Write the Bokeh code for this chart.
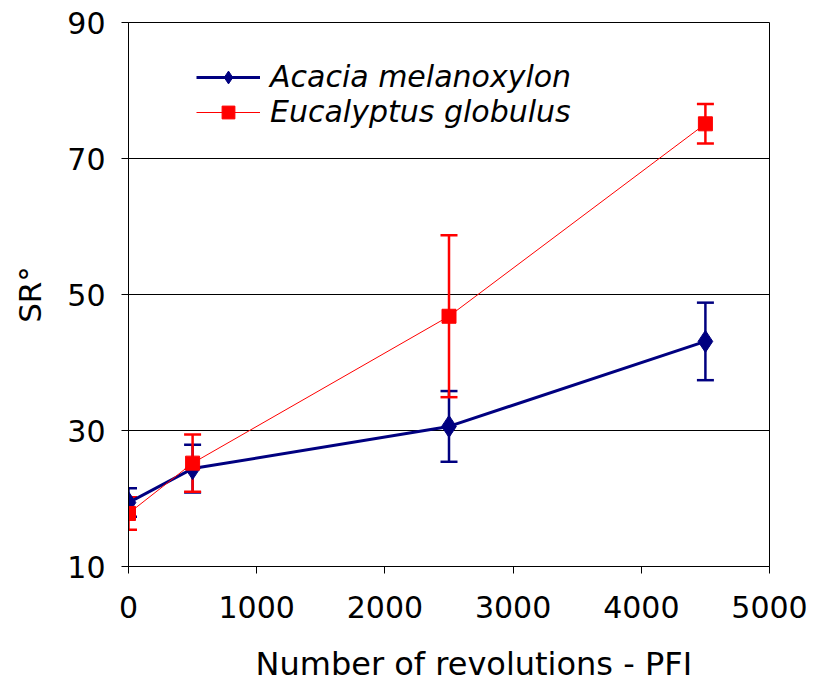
from bokeh.plotting import figure
from bokeh.models import Whisker, ColumnDataSource, Legend, LegendItem, FixedTicker, Title
from bokeh.embed import file_html
from bokeh.resources import INLINE

revolutions = [0, 500, 2500, 4500]
acacia_sr = [19.4, 24.4, 30.6, 43.1]
acacia_err = [2.1, 3.5, 5.2, 5.7]
eucalyptus_sr = [17.8, 25.2, 46.8, 75.1]
eucalyptus_err = [2.4, 4.2, 11.9, 2.9]
x_ticks = [0, 1000, 2000, 3000, 4000, 5000]
y_ticks = [10, 30, 50, 70, 90]

FONT = "DejaVu Sans"
NAVY = "#000080"
RED = "#FF0000"

p = figure(width=812, height=683, x_range=(0, 5000), y_range=(10, 90),
           output_backend="svg", toolbar_location=None,
           min_border_left=128, min_border_right=43, min_border_top=22, min_border_bottom=117)
p.frame_width = 641
p.frame_height = 544

p.background_fill_color = "white"
p.border_fill_color = "white"
p.outline_line_color = "black"
p.outline_line_width = 1

p.xgrid.grid_line_color = None
p.ygrid.grid_line_color = "black"
p.ygrid.grid_line_width = 1
p.ygrid.ticker = FixedTicker(ticks=y_ticks)

for ax in (p.xaxis, p.yaxis):
    ax.axis_line_color = "black"
    ax.major_tick_line_color = "black"
    ax.minor_tick_line_color = None
    ax.major_tick_in = 0
    ax.major_tick_out = 7
    ax.major_label_text_font = FONT
    ax.major_label_text_font_size = "30px"
    ax.major_label_text_color = "black"
    ax.axis_label_text_font = FONT
    ax.axis_label_text_font_size = "31px"
    ax.axis_label_text_font_style = "normal"
    ax.axis_label_text_color = "black"

p.xaxis.ticker = FixedTicker(ticks=x_ticks)
p.yaxis.ticker = FixedTicker(ticks=y_ticks)
p.yaxis.axis_label = "SR\u00b0"
p.xaxis.major_label_standoff = 22
p.yaxis.major_label_standoff = 16
p.yaxis.axis_label_standoff = 16

# x-axis title, slightly right of centre as in the original
x_title = Title(text="Number of revolutions - PFI", align="left", offset=127,
                text_font=FONT, text_font_size="32px", text_color="black",
                text_font_style="normal", standoff=45)
p.add_layout(x_title, "below")

src_a = ColumnDataSource(dict(
    x=revolutions, y=acacia_sr,
    lo=[v - e for v, e in zip(acacia_sr, acacia_err)],
    hi=[v + e for v, e in zip(acacia_sr, acacia_err)]))
src_e = ColumnDataSource(dict(
    x=revolutions, y=eucalyptus_sr,
    lo=[v - e for v, e in zip(eucalyptus_sr, eucalyptus_err)],
    hi=[v + e for v, e in zip(eucalyptus_sr, eucalyptus_err)]))

la = p.line("x", "y", source=src_a, line_color=NAVY, line_width=3)
le = p.line("x", "y", source=src_e, line_color=RED, line_width=1)

for src, col in ((src_a, NAVY), (src_e, RED)):
    w = Whisker(base="x", lower="lo", upper="hi", source=src,
                line_color=col, line_width=2.5)
    w.upper_head.size = 17
    w.lower_head.size = 17
    w.upper_head.line_color = col
    w.lower_head.line_color = col
    w.upper_head.line_width = 2.5
    w.lower_head.line_width = 2.5
    p.add_layout(w)

ma = p.scatter("x", "y", source=src_a, marker="diamond", size=22,
               fill_color=NAVY, line_color=NAVY)
me = p.scatter("x", "y", source=src_e, marker="square", size=14,
               fill_color=RED, line_color=RED)

legend = Legend(items=[
    LegendItem(label="Acacia melanoxylon", renderers=[la, ma]),
    LegendItem(label="Eucalyptus globulus", renderers=[le, me]),
], location=(68, 437))
legend.label_text_font = FONT
legend.label_text_font_size = "30px"
legend.label_text_font_style = "italic"
legend.label_text_color = "black"
legend.border_line_color = None
legend.background_fill_alpha = 0
legend.padding = 0
legend.margin = 0
legend.spacing = 0
legend.glyph_width = 64
legend.glyph_height = 32
legend.label_height = 32
legend.label_standoff = 10
p.add_layout(legend, "center")

open("out.html", "w").write(file_html(p, INLINE))
